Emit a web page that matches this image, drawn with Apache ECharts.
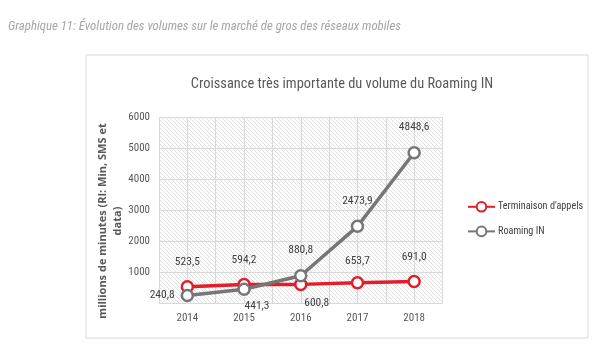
<!DOCTYPE html>
<html><head><meta charset="utf-8">
<script src="https://cdn.jsdelivr.net/npm/echarts@6/dist/echarts.min.js"></script>
<style>html,body{margin:0;padding:0;background:#fff}#c{width:600px;height:363px}</style>
</head><body><div id="c"></div>
<script>
const categories = ['2014','2015','2016','2017','2018'];
const terminaison = [523.5, 594.2, 600.8, 653.7, 691.0];
const roaming = [240.8, 441.3, 880.8, 2473.9, 4848.6];
const yTicks = [1000, 2000, 3000, 4000, 5000, 6000];

const FONT = '"Roboto Condensed", Roboto, sans-serif';
const fmt = v => v.toFixed(1).replace('.', ',');

// hatch pattern
const pc = document.createElement('canvas');
pc.width = 4; pc.height = 4;
const g = pc.getContext('2d');
g.fillStyle = '#ffffff'; g.fillRect(0,0,4,4);
g.strokeStyle = '#dcdcdc'; g.lineWidth = 0.9;
g.beginPath(); g.moveTo(0,0); g.lineTo(4,4); g.moveTo(-1,3); g.lineTo(1,5); g.moveTo(3,-1); g.lineTo(5,1); g.stroke();

const termLabelStyle = [
  {position:'top', distance:12},
  {position:'top', distance:12},
  {position:'bottom', distance:6, offset:[16,0]},
  {position:'top', distance:9},
  {position:'top', distance:12}
];
const roamLabelStyle = [
  {position:'left', distance:6},
  {position:'bottom', distance:4, offset:[13,0]},
  {position:'top', distance:13},
  {position:'top', distance:12},
  {position:'top', distance:13}
];

const chart = echarts.init(document.getElementById('c'));
chart.setOption({
  animation:false,
  graphic:[
    {type:'rect', shape:{x:86, y:55, width:502, height:283}, style:{fill:'none', stroke:'#d9d9d9', lineWidth:1}, z:-10},
    {type:'text', left:8, top:20, style:{text:'Graphique 11: Évolution des volumes sur le marché de gros des réseaux mobiles', fill:'#a6a6a6', font:'italic 12.8px ' + FONT}},
    {type:'text', x:110, y:221, rotation:Math.PI/2, z:10,
     style:{text:'millions de minutes (RI: Min, SMS et\ndata)', align:'center', verticalAlign:'middle',
       fill:'#595959', font:'bold 11px "Open Sans", sans-serif', lineHeight:15}}
  ],
  title:{text:'Croissance très importante du volume du Roaming IN', left:337, top:72, textAlign:'center',
    textStyle:{fontFamily:FONT, fontSize:14.4, fontWeight:'normal', color:'#595959'}},
  legend:{orient:'vertical', left:462, top:196, itemGap:13, itemWidth:27, itemHeight:12,
    textStyle:{fontFamily:FONT, fontSize:10.2, color:'#404040', padding:[0,0,0,-2]},
    data:['Terminaison d\'appels','Roaming IN']},
  grid:{left:159, right:157.5, top:117, bottom:60, show:true, borderWidth:0,
    backgroundColor:{image:pc, repeat:'repeat'}},
  xAxis:[{type:'category', data:categories, boundaryGap:true,
    axisLine:{show:true, lineStyle:{color:'#d9d9d9'}}, axisTick:{show:false},
    axisLabel:{fontFamily:FONT, fontSize:11, color:'#595959', margin:10},
    splitLine:{show:false}},
    {type:'value', min:0, max:10, interval:1, show:true, position:'bottom',
     axisLine:{show:false}, axisTick:{show:false}, axisLabel:{show:false},
     splitLine:{show:true, lineStyle:{color:'#d9d9d9', width:1}}}],
  yAxis:{type:'value', min:0, max:6000, interval:1000,
    axisLine:{show:false}, axisTick:{show:false},
    axisLabel:{fontFamily:FONT, fontSize:11, color:'#595959', margin:9,
      formatter: v => yTicks.includes(v) ? String(v) : ''},
    splitLine:{show:true, lineStyle:{color:'#d9d9d9'}}},
  series:[
    {name:'Terminaison d\'appels', type:'line', xAxisIndex:0,
     data: terminaison.map((v,i)=>({value:v, label:termLabelStyle[i]})),
     symbol:'circle', symbolSize:11, lineStyle:{color:'#e31e2a', width:3.5},
     itemStyle:{color:'#ffffff', borderColor:'#e31e2a', borderWidth:2.5},
     label:{show:true, fontFamily:FONT, fontSize:11.5, color:'#404040', formatter:p=>fmt(p.value)},
     z:3},
    {name:'Roaming IN', type:'line', xAxisIndex:0,
     data: roaming.map((v,i)=>({value:v, label:roamLabelStyle[i]})),
     symbol:'circle', symbolSize:11, lineStyle:{color:'#767676', width:3.5},
     itemStyle:{color:'#ffffff', borderColor:'#767676', borderWidth:2.5},
     label:{show:true, fontFamily:FONT, fontSize:11.5, color:'#404040', formatter:p=>fmt(p.value)},
     z:4}
  ]
});
</script></body></html>
